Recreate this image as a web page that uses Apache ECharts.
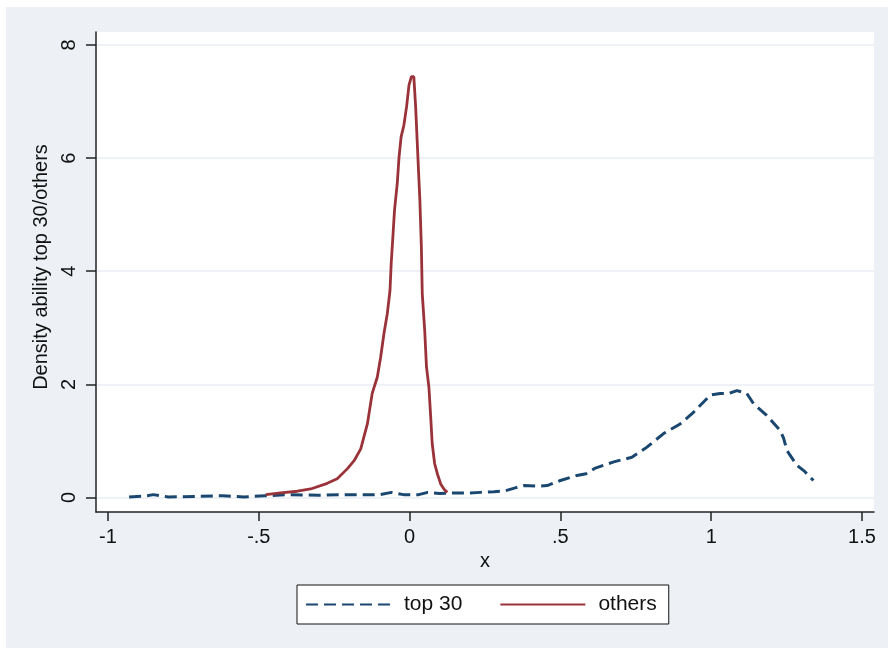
<!DOCTYPE html>
<html>
<head>
<meta charset="utf-8">
<script src="https://cdn.jsdelivr.net/npm/echarts@6/dist/echarts.min.js"></script>
<style>
  html, body { margin: 0; padding: 0; background: #fff; }
  #main { width: 888px; height: 648px; }
</style>
</head>
<body>
<div id="main"></div>
<script>
// kernel density estimates
var top30X = [-0.93, -0.87, -0.85, -0.80, -0.70, -0.62, -0.55, -0.48, -0.40, -0.30, -0.20, -0.10, -0.06, -0.02,
  0.03, 0.06, 0.10, 0.15, 0.20, 0.235, 0.28, 0.318, 0.35, 0.379, 0.42, 0.456, 0.50, 0.555, 0.585, 0.616,
  0.677, 0.737, 0.787, 0.842, 0.897, 0.942, 0.997, 1.030, 1.060, 1.085, 1.118, 1.140, 1.184, 1.228,
  1.240, 1.251, 1.284, 1.310, 1.339];
var top30Y = [0.01, 0.03, 0.05, 0.01, 0.02, 0.03, 0.01, 0.03, 0.05, 0.04, 0.05, 0.05, 0.09, 0.05,
  0.05, 0.09, 0.07, 0.08, 0.08, 0.09, 0.10, 0.12, 0.17, 0.21, 0.20, 0.21, 0.30, 0.39, 0.42, 0.52,
  0.63, 0.71, 0.89, 1.13, 1.30, 1.51, 1.81, 1.84, 1.84, 1.89, 1.84, 1.66, 1.45, 1.19,
  1.05, 0.83, 0.57, 0.46, 0.30];

var othersX = [-0.477, -0.427, -0.372, -0.328, -0.273, -0.240, -0.206, -0.184, -0.162, -0.140, -0.124,
  -0.107, -0.096, -0.085, -0.074, -0.065, -0.061, -0.054, -0.050, -0.041, -0.035, -0.028, -0.019,
  -0.010, -0.002, 0.006, 0.014, 0.020, 0.027, 0.034, 0.039, 0.042, 0.050, 0.056, 0.064, 0.070,
  0.075, 0.083, 0.092, 0.103, 0.115, 0.125];
var othersY = [0.05, 0.08, 0.11, 0.15, 0.25, 0.33, 0.51, 0.65, 0.86, 1.30, 1.84,
  2.13, 2.48, 2.90, 3.25, 3.66, 4.14, 4.73, 5.08, 5.55, 6.02, 6.38, 6.58,
  6.91, 7.29, 7.44, 7.44, 6.91, 6.08, 5.26, 4.43, 3.60, 2.96, 2.31, 1.95, 1.42,
  0.95, 0.60, 0.42, 0.24, 0.14, 0.09];

var xTicks = [-1, -0.5, 0, 0.5, 1, 1.5];
var xTickLabels = ['-1', '-.5', '0', '.5', '1', '1.5'];
var yTicks = [0, 2, 4, 6, 8];

var seriesNames = ['top 30', 'others'];

function pairs(xs, ys) {
  return xs.map(function (x, i) { return [x, ys[i]]; });
}

var chart = echarts.init(document.getElementById('main'));
var fontFamily = 'Liberation Sans, Arial, sans-serif';

var option = {
  backgroundColor: '#ffffff',
  animation: false,
  graphic: [{
    type: 'rect',
    z: -10,
    shape: { x: 6, y: 7, width: 882, height: 641 },
    style: { fill: '#edf1f6' }
  }],
  grid: {
    left: 96, right: 14, top: 32, bottom: 136,
    show: true,
    backgroundColor: '#ffffff',
    borderWidth: 0
  },
  legend: {
    left: 297, top: 585,
    backgroundColor: '#ffffff',
    borderColor: '#111',
    borderWidth: 1,
    padding: [9, 12, 9, 8],
    itemWidth: 85,
    itemHeight: 14,
    itemGap: 37,
    itemStyle: { opacity: 0 },
    data: seriesNames,
    textStyle: { fontFamily: fontFamily, fontSize: 21, color: '#111', padding: [0, 0, 0, 8] }
  },
  xAxis: {
    type: 'value',
    min: -1.0398, max: 1.5398,
    name: 'x',
    nameLocation: 'middle',
    nameGap: 34,
    nameTextStyle: { fontFamily: fontFamily, fontSize: 20, color: '#111' },
    axisLine: { show: true, onZero: false, lineStyle: { color: '#222', width: 1.5 } },
    axisTick: { show: true, length: 9, customValues: xTicks, lineStyle: { color: '#222', width: 1.5 } },
    axisLabel: {
      customValues: xTicks,
      margin: 15,
      fontFamily: fontFamily, fontSize: 20, color: '#111',
      formatter: function (v) {
        var i = xTicks.indexOf(v);
        return i >= 0 ? xTickLabels[i] : '';
      }
    },
    splitLine: { show: false }
  },
  yAxis: {
    type: 'value',
    min: -0.257, max: 8.23,
    name: 'Density ability top 30/others',
    nameLocation: 'middle',
    nameGap: 44,
    nameTextStyle: { fontFamily: fontFamily, fontSize: 20, color: '#111', padding: [0, 0, 0, 10] },
    axisLine: { show: true, onZero: false, lineStyle: { color: '#222', width: 1.5 } },
    axisTick: { show: true, length: 10, customValues: yTicks, lineStyle: { color: '#222', width: 1.5 } },
    axisLabel: {
      customValues: yTicks,
      rotate: 90,
      margin: 17,
      fontFamily: fontFamily, fontSize: 20, color: '#111'
    },
    splitLine: { show: true, lineStyle: { color: '#e8eef5', width: 1.5 } }
  },
  series: [{
    name: seriesNames[0],
    type: 'line',
    data: pairs(top30X, top30Y),
    showSymbol: false,
    symbol: 'none',
    color: '#1a476f',
    lineStyle: { color: '#1a476f', width: 3, type: [12, 6] }
  }, {
    name: seriesNames[1],
    type: 'line',
    data: pairs(othersX, othersY),
    showSymbol: false,
    symbol: 'none',
    color: '#993339',
    lineStyle: { color: '#993339', width: 2.8 }
  }]
};

chart.setOption(option);
</script>
</body>
</html>
